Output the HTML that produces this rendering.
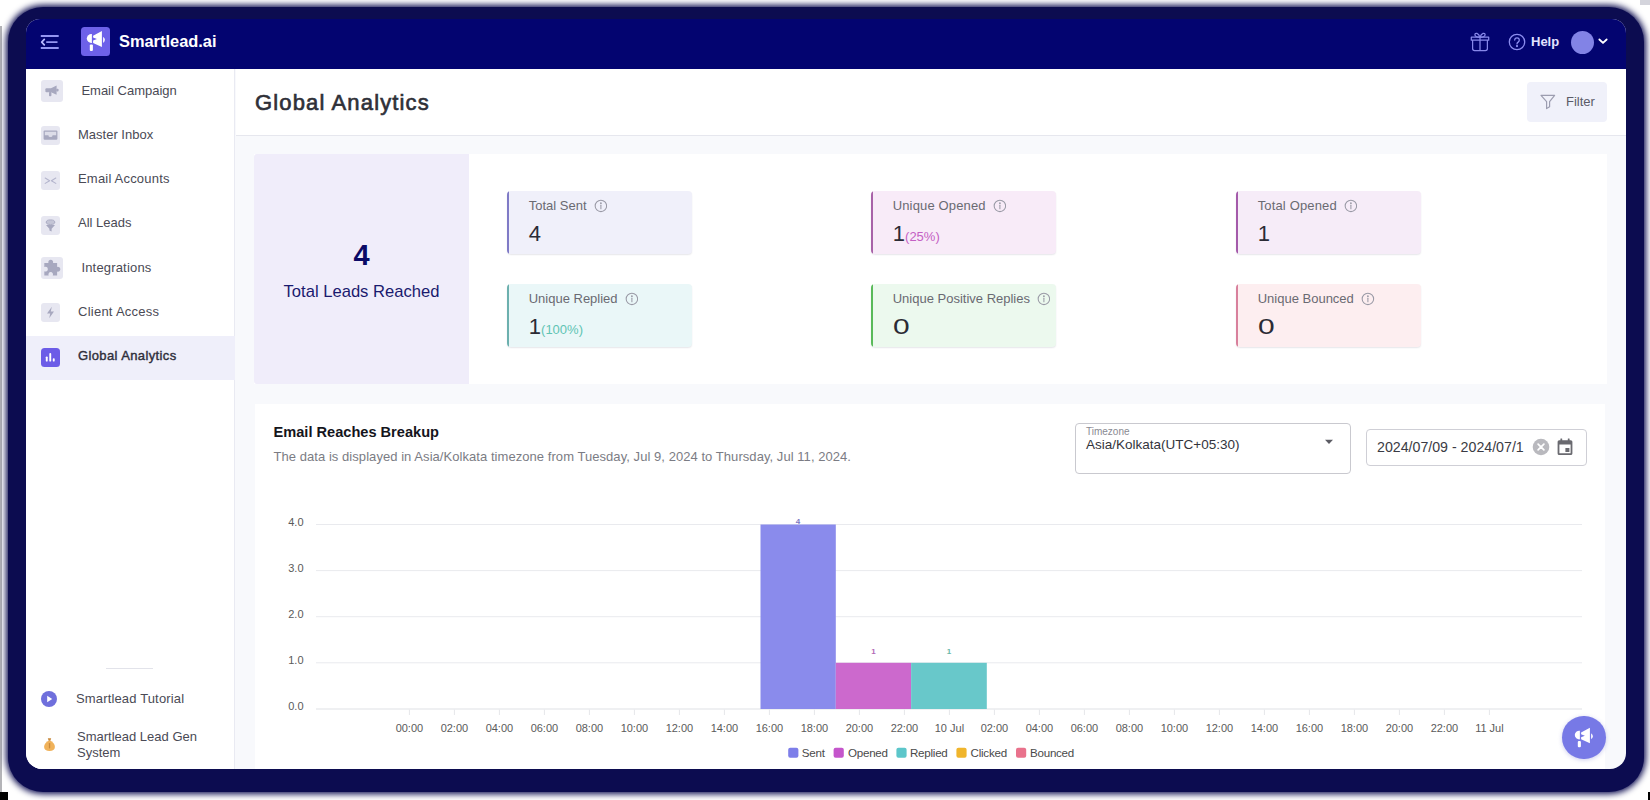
<!DOCTYPE html>
<html>
<head>
<meta charset="utf-8">
<title>Global Analytics</title>
<style>
*{box-sizing:border-box;margin:0;padding:0}
html,body{width:1650px;height:800px;overflow:hidden;background:#ffffff}
body{font-family:"Liberation Sans",sans-serif;position:relative;color:#333}
.frame{position:absolute;left:8px;top:7px;width:1636px;height:785px;background:#0c0c50;border-radius:35px;box-shadow:0 0 6px 2px #0c0c50}
.app{position:absolute;left:26px;top:19px;width:1600px;height:750px;background:#f8f9fc;border-radius:14px 14px 16px 16px;overflow:hidden}
.abs{position:absolute}
.t{position:absolute;white-space:nowrap;line-height:20px}
/* topbar */
.topbar{position:absolute;left:0;top:0;width:1600px;height:50px;background:#030470}
/* sidebar */
.sidebar{position:absolute;left:0;top:50px;width:209px;height:700px;background:#ffffff;border-right:1px solid #e9eaf2}
.nav{font-size:13px;color:#4a4a55}
.ib{position:absolute;background:#e7e7f1;border-radius:3px}
/* main */
.header{position:absolute;left:210px;top:50px;width:1390px;height:67px;background:#ffffff;border-bottom:1px solid #e6e7ee}
.panel{position:absolute;background:#ffffff}
.card{position:absolute;width:185.400px;height:63px;border-radius:4px;overflow:hidden;box-shadow:0 1px 1.500px rgba(60,60,90,.13)}
.card i{position:absolute;left:0;top:0;width:2.500px;height:100%;display:block}
.card .l{position:absolute;left:22.200px;top:4.700px;font-size:13px;line-height:20px;color:#6a6a72;white-space:nowrap}
.card .v{position:absolute;left:22.300px;top:29px;font-size:22px;line-height:28px;color:#2b2b35;white-space:nowrap}
.card .p{font-size:13px;margin-left:0}
.card svg{position:absolute;top:8.200px}
</style>
</head>
<body>
<div class="abs" style="left:0;top:26px;width:1.500px;height:766px;background:#b4b4b8"></div>
<div class="abs" style="left:0;top:792px;width:8px;height:8px;background:#000"></div>
<div class="abs" style="left:1648px;top:792px;width:2px;height:8px;background:#000"></div>
<div class="abs" style="left:1640px;top:0;width:10px;height:5px;background:#d4d4dc"></div>
<div class="frame"></div>
<div class="app">
  <div class="topbar">
    <!-- hamburger: app coords = target - (26,19) -->
    <svg class="abs" style="left:14px;top:15px" width="20" height="16" viewBox="0 0 20 16" fill="none" stroke="#9495f1" stroke-width="1.900">
      <path d="M.8 2H18.700M6.200 8.100H17.500M.8 14H18.700"/><path d="M4.300 5.300L1.700 8.100l2.600 2.800" stroke="#b9baff" stroke-width="1.700" stroke-linecap="round" stroke-linejoin="round"/>
    </svg>
    <div class="abs" style="left:55px;top:8px;width:29px;height:28.500px;border-radius:3.500px;background:#6d61e9"></div>
    <svg class="abs" style="left:55px;top:8px" width="29" height="29" viewBox="0 0 29 29" fill="#ffffff">
      <path d="M10.900 7.100A4.450 4.450 0 1 0 10.900 15.900z"/>
      <path d="M12.100 8.800L20.900 4V20L12.100 15.900V13.600L15.900 12.100 12.100 10.600z"/>
      <path d="M22.100 9.700Q25.700 12.800 22.100 15.900z"/>
      <rect x="8.800" y="17.600" width="3.100" height="6.400" rx="1"/>
    </svg>
    <div class="t" id="brand" style="left:93px;top:11.300px;font-size:16.400px;font-weight:bold;color:#ffffff;line-height:22px">Smartlead.ai</div>
    <!-- gift -->
    <svg class="abs" style="left:1444px;top:13px" width="20" height="20" viewBox="0 0 20 20" fill="none" stroke="#8788ea" stroke-width="1.250" stroke-linejoin="round" stroke-linecap="round">
      <path d="M1.300 5.200h17.400v3H1.300zM2.600 8.200v8.400a2 2 0 0 0 2 2h10.800a2 2 0 0 0 2-2V8.200M10 5.200V18.600"/>
      <path d="M10 5.200C8 5.200 4.700 4.800 4.900 2.500 5.100.5 8.500.7 10 5.200zM10 5.200C12 5.200 15.300 4.800 15.100 2.500 14.900.5 11.500.7 10 5.200z"/>
    </svg>
    <!-- help -->
    <svg class="abs" style="left:1481.400px;top:12.650px" width="20" height="20" viewBox="0 0 20 20" fill="none" stroke="#8b8cee" stroke-width="1.300" stroke-linecap="round">
      <circle cx="10" cy="10" r="7.700"/>
      <path d="M7.700 8.100a2.300 2.300 0 1 1 3.500 2c-.8.500-1.200.9-1.200 1.800"/>
      <circle cx="10" cy="14.100" r=".5" fill="#8b8cee"/>
    </svg>
    <div class="t" id="help" style="left:1505px;top:13px;font-size:13px;font-weight:bold;color:#e2e3ff;line-height:20px">Help</div>
    <div class="abs" style="left:1545px;top:12px;width:23px;height:23px;border-radius:50%;background:#8283e6"></div>
    <svg class="abs" style="left:1571.500px;top:18.500px" width="10" height="7.300" viewBox="0 0 11 8" fill="none" stroke="#ffffff" stroke-width="2" stroke-linecap="round" stroke-linejoin="round"><path d="M1.500 1.600L5.500 5.400 9.500 1.600"/></svg>
  </div>
  <div class="sidebar">
    <!-- coords inside sidebar: target - (26,69) -->
    <div class="abs" style="left:0;top:267px;width:209px;height:44px;background:#efeffa"></div>
    <!-- Email Campaign -->
    <div class="ib" style="left:15px;top:11px;width:22px;height:22px"></div>
    <svg class="abs" style="left:15px;top:11px" width="22" height="22" viewBox="0 0 22 22" fill="#a7a8bf">
      <path d="M15.600 5.600v9.200l-5.600-2.600H7.400v-4h2.600z"/><rect x="4.400" y="8.200" width="3.600" height="4" rx="1"/><rect x="8" y="12" width="2.400" height="4.200" rx=".8"/><rect x="15.200" y="8.800" width="2.400" height="2.800" rx="1"/>
    </svg>
    <div class="t nav" id="n1" style="left:55.400px;top:12px">Email Campaign</div>
    <!-- Master Inbox -->
    <div class="ib" style="left:15px;top:57px;width:19px;height:19px"></div>
    <svg class="abs" style="left:15px;top:57px" width="19" height="19" viewBox="0 0 19 19" fill="#a7a8bf">
      <path d="M2.600 5.600a1 1 0 0 1 1-1h11.800a1 1 0 0 1 1 1v7.200a1 1 0 0 1-1 1H3.600a1 1 0 0 1-1-1z"/><path d="M3.800 5.700h11.400v3.500h-3.600a2.100 1.900 0 0 1-4.200 0H3.800z" fill="#dcdce8"/>
    </svg>
    <div class="t nav" id="n2" style="left:52px;top:56px">Master Inbox</div>
    <!-- Email Accounts -->
    <div class="ib" style="left:15px;top:102px;width:19px;height:19px"></div>
    <svg class="abs" style="left:15px;top:102px" width="19" height="19" viewBox="0 0 19 19" fill="none" stroke="#b4b5cd" stroke-width="1.100" stroke-linecap="round" stroke-linejoin="round">
      <path d="M4.200 7L8.600 9.700 4.200 12.400M14.800 7L10.400 9.700 14.800 12.400"/>
    </svg>
    <div class="t nav" id="n3" style="letter-spacing:.2px;left:52px;top:100px">Email Accounts</div>
    <!-- All Leads -->
    <div class="ib" style="left:15px;top:147px;width:19px;height:19px"></div>
    <svg class="abs" style="left:15px;top:147px" width="19" height="19" viewBox="0 0 19 19" fill="#a7a8bf">
      <ellipse cx="9.500" cy="6.200" rx="4.300" ry="2.300" fill="#c4c5d6" stroke="#a7a8bf" stroke-width=".9"/><path d="M5 9h9l-3.400 3.800v2.800l-2.200-1.100v-1.700z"/>
    </svg>
    <div class="t nav" id="n4" style="left:52px;top:144px">All Leads</div>
    <!-- Integrations -->
    <div class="ib" style="left:15px;top:188px;width:22px;height:22px"></div>
    <svg class="abs" style="left:15px;top:188px" width="22" height="22" viewBox="0 0 22 22" fill="#a7a8bf">
      <path transform="translate(11 11) scale(1.28) translate(-11 -12.200)" d="M5 8.200h3.200a1.900 1.900 0 1 1 3.600 0H15v3.200a1.900 1.900 0 1 1 0 3.600v3H11.600a1.800 1.800 0 1 0-3.200 0H5v-3.200a1.900 1.900 0 1 0 0-3.400z"/>
    </svg>
    <div class="t nav" id="n5" style="letter-spacing:.18px;left:55.400px;top:189px">Integrations</div>
    <!-- Client Access -->
    <div class="ib" style="left:15px;top:234px;width:19px;height:19px"></div>
    <svg class="abs" style="left:15px;top:234px" width="19" height="19" viewBox="0 0 19 19" fill="#a7a8bf">
      <path d="M10.800 3.800L6 10.400h3.200L8.200 15.200 13 8.600H9.800z"/>
    </svg>
    <div class="t nav" id="n6" style="letter-spacing:.25px;left:52px;top:233px">Client Access</div>
    <!-- Global Analytics -->
    <div class="ib" style="left:15px;top:279px;width:18.500px;height:18.500px;background:#6c5ce7;border-radius:3.500px"></div>
    <svg class="abs" style="left:15px;top:279px" width="18.500" height="18.500" viewBox="0 0 18.500 18.500" fill="#ffffff">
      <rect x="4.800" y="8.400" width="1.900" height="5.200" rx=".9"/><rect x="8.300" y="5" width="1.900" height="8.600" rx=".9"/><rect x="11.800" y="10.200" width="1.900" height="3.400" rx=".9"/>
    </svg>
    <div class="t nav" id="n7" style="left:52px;top:277px;color:#2e2e3a;font-size:13px;-webkit-text-stroke:.4px #2e2e3a;letter-spacing:.38px">Global Analytics</div>
    <!-- divider -->
    <div class="abs" style="left:80px;top:599px;width:47px;height:1px;background:#e2e3ea"></div>
    <!-- tutorial -->
    <div class="abs" style="left:15px;top:622px;width:16px;height:16px;border-radius:50%;background:#6f6fdc"></div>
    <svg class="abs" style="left:15px;top:622px" width="16" height="16" viewBox="0 0 16 16" fill="#ffffff"><path d="M6.200 4.800L11.200 8 6.200 11.200z"/></svg>
    <div class="t nav" id="n8" style="letter-spacing:.15px;left:50px;top:620px">Smartlead Tutorial</div>
    <!-- lead gen -->
    <svg class="abs" style="left:17px;top:668px" width="13" height="15" viewBox="0 0 13 15">
      <path d="M6.500 3.600c3.600 1 5.400 4 5.400 6.400 0 2.600-2.200 4-5.400 4S1.100 12.600 1.100 10c0-2.400 1.800-5.400 5.400-6.400z" fill="#f0b25a"/>
      <path d="M4.800 1.200h3.400L7.400 3.800H5.600z" fill="#c98a3c"/>
      <rect x="5.900" y="6" width="1.300" height="5.400" rx=".6" fill="#c98a3c"/>
    </svg>
    <div class="t nav" id="n9" style="left:51px;top:659.600px;line-height:16px;white-space:normal;width:130px">Smartlead Lead Gen System</div>
  </div>
  <div class="header">
    <div class="t" id="title" style="letter-spacing:1.150px;left:19px;top:18px;font-size:22px;color:#2f3038;-webkit-text-stroke:.65px #2f3038;line-height:32px">Global Analytics</div>
    <div class="abs" style="left:1291px;top:13px;width:80px;height:40px;border-radius:4px;background:#f0f1fa"></div>
    <svg class="abs" style="left:1303px;top:24px" width="18" height="18" viewBox="0 0 18 18" fill="none" stroke="#9c9db0" stroke-width="1.200" stroke-linejoin="round"><path d="M2 2.400h13.600L10.600 8.600v5.200l-3 1.800V8.600z"/></svg>
    <div class="t" id="filter" style="left:1330px;top:23px;font-size:13px;color:#5a5b68;line-height:20px">Filter</div>
  </div>
  <div class="panel" style="left:228px;top:135px;width:1353px;height:230px"></div>
  <div class="abs" style="left:228px;top:135px;width:214.500px;height:230px;background:#f0edfa;border-radius:3px 0 0 3px"></div>
  <div class="t" id="big4" style="left:228px;top:216px;width:215px;text-align:center;font-size:29px;font-weight:bold;color:#0b0a66;line-height:40px">4</div>
  <div class="t" id="tlr" style="left:228px;top:262px;width:215px;text-align:center;font-size:16.600px;color:#1a1a6e;line-height:22px">Total Leads Reached</div>
  <div class="card" style="left:480.500px;top:172.300px;background:#f0f0fa"><i style="background:#7f7ac6"></i><div class="l" id="c1l">Total Sent</div><svg style="left:87.1px" width="13.800" height="13.800" viewBox="0 0 13 13" fill="none" stroke="#9a9aa6" stroke-width="1"><circle cx="6.500" cy="6.500" r="5.400"/><path d="M6.500 5.800v3.400" stroke-linecap="round"/><circle cx="6.500" cy="3.900" r=".35" fill="#9a9aa6"/></svg><div class="v" id="c1v">4</div></div>
    <div class="card" style="left:844.500px;top:172.300px;background:#f8ebf8"><i style="background:#a862a8"></i><div class="l" id="c2l" style="letter-spacing:.15px">Unique Opened</div><svg style="left:122.2px" width="13.800" height="13.800" viewBox="0 0 13 13" fill="none" stroke="#9a9aa6" stroke-width="1"><circle cx="6.500" cy="6.500" r="5.400"/><path d="M6.500 5.800v3.400" stroke-linecap="round"/><circle cx="6.500" cy="3.900" r=".35" fill="#9a9aa6"/></svg><div class="v" id="c2v">1<span class="p" style="color:#c45fc4">(25%)</span></div></div>
    <div class="card" style="left:1209.500px;top:172.300px;background:#f6ecf8"><i style="background:#a45aaa"></i><div class="l" id="c3l" style="letter-spacing:.15px">Total Opened</div><svg style="left:108px" width="13.800" height="13.800" viewBox="0 0 13 13" fill="none" stroke="#9a9aa6" stroke-width="1"><circle cx="6.500" cy="6.500" r="5.400"/><path d="M6.500 5.800v3.400" stroke-linecap="round"/><circle cx="6.500" cy="3.900" r=".35" fill="#9a9aa6"/></svg><div class="v" id="c3v">1</div></div>
    <div class="card" style="left:480.500px;top:265.300px;background:#eaf7f8"><i style="background:#6cb0ae"></i><div class="l" id="c4l">Unique Replied</div><svg style="left:118px" width="13.800" height="13.800" viewBox="0 0 13 13" fill="none" stroke="#9a9aa6" stroke-width="1"><circle cx="6.500" cy="6.500" r="5.400"/><path d="M6.500 5.800v3.400" stroke-linecap="round"/><circle cx="6.500" cy="3.900" r=".35" fill="#9a9aa6"/></svg><div class="v" id="c4v">1<span class="p" style="color:#5fc4b4">(100%)</span></div></div>
    <div class="card" style="left:844.500px;top:265.300px;background:#ecf9ee"><i style="background:#5aba5a"></i><div class="l" id="c5l">Unique Positive Replies</div><svg style="left:166px" width="13.800" height="13.800" viewBox="0 0 13 13" fill="none" stroke="#9a9aa6" stroke-width="1"><circle cx="6.500" cy="6.500" r="5.400"/><path d="M6.500 5.800v3.400" stroke-linecap="round"/><circle cx="6.500" cy="3.900" r=".35" fill="#9a9aa6"/></svg><div class="v" id="c5v"><span style="display:inline-block;transform:scaleX(1.360);transform-origin:0 50%">0</span></div></div>
    <div class="card" style="left:1209.500px;top:265.300px;background:#fdeef0"><i style="background:#d8809c"></i><div class="l" id="c6l">Unique Bounced</div><svg style="left:125.5px" width="13.800" height="13.800" viewBox="0 0 13 13" fill="none" stroke="#9a9aa6" stroke-width="1"><circle cx="6.500" cy="6.500" r="5.400"/><path d="M6.500 5.800v3.400" stroke-linecap="round"/><circle cx="6.500" cy="3.900" r=".35" fill="#9a9aa6"/></svg><div class="v" id="c6v"><span style="display:inline-block;transform:scaleX(1.360);transform-origin:0 50%">0</span></div></div>
    
  <div class="panel" id="chartpanel" style="left:229px;top:385px;width:1350px;height:380px"></div>
  <div class="t" id="ct" style="left:247.500px;top:403px;font-size:14.600px;font-weight:bold;color:#15151c;line-height:20px">Email Reaches Breakup</div>
  <div class="t" id="cs" style="letter-spacing:.055px;left:247.500px;top:428px;font-size:13px;color:#7b7c84;line-height:20px">The data is displayed in Asia/Kolkata timezone from Tuesday, Jul 9, 2024 to Thursday, Jul 11, 2024.</div>
  <div class="abs" style="left:1048.700px;top:404px;width:276.300px;height:50.500px;border:1px solid #c9c9cf;border-radius:4px;background:#fff"></div>
  <div class="t" id="tzl" style="left:1060px;top:408px;font-size:10px;color:#8a8a92;line-height:10px">Timezone</div>
  <div class="t" id="tzv" style="left:1060px;top:416px;font-size:13.500px;color:#33343c;line-height:20px">Asia/Kolkata(UTC+05:30)</div>
  <svg class="abs" style="left:1298px;top:420px" width="10" height="6" viewBox="0 0 10 6"><path d="M1 .8h8L5 5z" fill="#5c5c64"/></svg>
  <div class="abs" style="left:1340px;top:410px;width:220.700px;height:37px;border:1px solid #cfcfd6;border-radius:4px;background:#fff"></div>
  <div class="t" id="dv" style="left:1351px;top:418px;font-size:14.200px;color:#3a3b44;line-height:20px">2024/07/09 - 2024/07/1</div>
  <svg class="abs" style="left:1506px;top:419px" width="18" height="18" viewBox="0 0 18 18"><circle cx="9" cy="9" r="8.300" fill="#b9b9be"/><path d="M6.100 6.100l5.800 5.800M11.900 6.100l-5.800 5.800" stroke="#fff" stroke-width="1.700" stroke-linecap="round"/></svg>
  <svg class="abs" style="left:1530px;top:418px" width="18" height="20" viewBox="0 0 18 20" fill="#6a6a70"><path d="M3.200 3.200h11.600a1.600 1.600 0 0 1 1.600 1.600v11.600a1.600 1.600 0 0 1-1.600 1.600H3.200a1.600 1.600 0 0 1-1.600-1.600V4.800a1.600 1.600 0 0 1 1.600-1.600zM3.400 7.600v8.600h11.200V7.600z" fill-rule="evenodd"/><rect x="4.400" y="1.400" width="1.800" height="3" rx=".4"/><rect x="11.800" y="1.400" width="1.800" height="3" rx=".4"/><rect x="9.400" y="11" width="4" height="4"/></svg>
  <svg class="abs" style="left:0;top:0" width="1600" height="750" viewBox="26 19 1600 750" font-family="Liberation Sans, sans-serif">
    <path d="M316 524.5 H1582" stroke="#e9eaee" stroke-width="1"/>
    <path d="M316 570.6 H1582" stroke="#e9eaee" stroke-width="1"/>
    <path d="M316 616.7 H1582" stroke="#e9eaee" stroke-width="1"/>
    <path d="M316 662.8 H1582" stroke="#e9eaee" stroke-width="1"/>
    <path d="M316 709 H1582" stroke="#e0e1e5" stroke-width="1.200"/>
    <path d="M409.4 709.500 V715" stroke="#e6e7ea" stroke-width="1"/>
    <path d="M454.4 709.500 V715" stroke="#e6e7ea" stroke-width="1"/>
    <path d="M499.4 709.500 V715" stroke="#e6e7ea" stroke-width="1"/>
    <path d="M544.4 709.500 V715" stroke="#e6e7ea" stroke-width="1"/>
    <path d="M589.4 709.500 V715" stroke="#e6e7ea" stroke-width="1"/>
    <path d="M634.4 709.500 V715" stroke="#e6e7ea" stroke-width="1"/>
    <path d="M679.4 709.500 V715" stroke="#e6e7ea" stroke-width="1"/>
    <path d="M724.4 709.500 V715" stroke="#e6e7ea" stroke-width="1"/>
    <path d="M769.4 709.500 V715" stroke="#e6e7ea" stroke-width="1"/>
    <path d="M814.4 709.500 V715" stroke="#e6e7ea" stroke-width="1"/>
    <path d="M859.4 709.500 V715" stroke="#e6e7ea" stroke-width="1"/>
    <path d="M904.4 709.500 V715" stroke="#e6e7ea" stroke-width="1"/>
    <path d="M949.4 709.500 V715" stroke="#e6e7ea" stroke-width="1"/>
    <path d="M994.4 709.500 V715" stroke="#e6e7ea" stroke-width="1"/>
    <path d="M1039.4 709.500 V715" stroke="#e6e7ea" stroke-width="1"/>
    <path d="M1084.4 709.500 V715" stroke="#e6e7ea" stroke-width="1"/>
    <path d="M1129.4 709.500 V715" stroke="#e6e7ea" stroke-width="1"/>
    <path d="M1174.4 709.500 V715" stroke="#e6e7ea" stroke-width="1"/>
    <path d="M1219.4 709.500 V715" stroke="#e6e7ea" stroke-width="1"/>
    <path d="M1264.4 709.500 V715" stroke="#e6e7ea" stroke-width="1"/>
    <path d="M1309.4 709.500 V715" stroke="#e6e7ea" stroke-width="1"/>
    <path d="M1354.4 709.500 V715" stroke="#e6e7ea" stroke-width="1"/>
    <path d="M1399.4 709.500 V715" stroke="#e6e7ea" stroke-width="1"/>
    <path d="M1444.4 709.500 V715" stroke="#e6e7ea" stroke-width="1"/>
    <path d="M1489.4 709.500 V715" stroke="#e6e7ea" stroke-width="1"/>
    <rect x="760.500" y="524.500" width="75.300" height="184.500" fill="#8a8bec"/>
    <rect x="835.800" y="662.800" width="75.300" height="46.200" fill="#cc69cd"/>
    <rect x="911.100" y="662.800" width="75.700" height="46.200" fill="#68c8ca"/>
    <text x="798" y="524" font-size="8" font-weight="bold" fill="#7c78c2" text-anchor="middle">4</text>
    <text x="873.500" y="654" font-size="8" font-weight="bold" fill="#b36ab6" text-anchor="middle">1</text>
    <text x="949" y="654" font-size="8" font-weight="bold" fill="#68b8a8" text-anchor="middle">1</text>
    <text x="303.500" y="525.9" font-size="11" fill="#5a5a5a" text-anchor="end">4.0</text>
    <text x="303.500" y="572" font-size="11" fill="#5a5a5a" text-anchor="end">3.0</text>
    <text x="303.500" y="618.1" font-size="11" fill="#5a5a5a" text-anchor="end">2.0</text>
    <text x="303.500" y="664.2" font-size="11" fill="#5a5a5a" text-anchor="end">1.0</text>
    <text x="303.500" y="710.4" font-size="11" fill="#5a5a5a" text-anchor="end">0.0</text>
    <text x="409.4" y="732.300" font-size="11" fill="#5a5a5a" text-anchor="middle">00:00</text>
    <text x="454.4" y="732.300" font-size="11" fill="#5a5a5a" text-anchor="middle">02:00</text>
    <text x="499.4" y="732.300" font-size="11" fill="#5a5a5a" text-anchor="middle">04:00</text>
    <text x="544.4" y="732.300" font-size="11" fill="#5a5a5a" text-anchor="middle">06:00</text>
    <text x="589.4" y="732.300" font-size="11" fill="#5a5a5a" text-anchor="middle">08:00</text>
    <text x="634.4" y="732.300" font-size="11" fill="#5a5a5a" text-anchor="middle">10:00</text>
    <text x="679.4" y="732.300" font-size="11" fill="#5a5a5a" text-anchor="middle">12:00</text>
    <text x="724.4" y="732.300" font-size="11" fill="#5a5a5a" text-anchor="middle">14:00</text>
    <text x="769.4" y="732.300" font-size="11" fill="#5a5a5a" text-anchor="middle">16:00</text>
    <text x="814.4" y="732.300" font-size="11" fill="#5a5a5a" text-anchor="middle">18:00</text>
    <text x="859.4" y="732.300" font-size="11" fill="#5a5a5a" text-anchor="middle">20:00</text>
    <text x="904.4" y="732.300" font-size="11" fill="#5a5a5a" text-anchor="middle">22:00</text>
    <text x="949.4" y="732.300" font-size="11" fill="#5a5a5a" text-anchor="middle">10 Jul</text>
    <text x="994.4" y="732.300" font-size="11" fill="#5a5a5a" text-anchor="middle">02:00</text>
    <text x="1039.4" y="732.300" font-size="11" fill="#5a5a5a" text-anchor="middle">04:00</text>
    <text x="1084.4" y="732.300" font-size="11" fill="#5a5a5a" text-anchor="middle">06:00</text>
    <text x="1129.4" y="732.300" font-size="11" fill="#5a5a5a" text-anchor="middle">08:00</text>
    <text x="1174.4" y="732.300" font-size="11" fill="#5a5a5a" text-anchor="middle">10:00</text>
    <text x="1219.4" y="732.300" font-size="11" fill="#5a5a5a" text-anchor="middle">12:00</text>
    <text x="1264.4" y="732.300" font-size="11" fill="#5a5a5a" text-anchor="middle">14:00</text>
    <text x="1309.4" y="732.300" font-size="11" fill="#5a5a5a" text-anchor="middle">16:00</text>
    <text x="1354.4" y="732.300" font-size="11" fill="#5a5a5a" text-anchor="middle">18:00</text>
    <text x="1399.4" y="732.300" font-size="11" fill="#5a5a5a" text-anchor="middle">20:00</text>
    <text x="1444.4" y="732.300" font-size="11" fill="#5a5a5a" text-anchor="middle">22:00</text>
    <text x="1489.4" y="732.300" font-size="11" fill="#5a5a5a" text-anchor="middle">11 Jul</text>
    <rect x="788.2" y="747.800" width="10.200" height="10" rx="2" fill="#7d7ee9"/>
    <text x="801.8" y="756.800" font-size="11.600" fill="#4a4a4a" letter-spacing="-0.25">Sent</text>
    <rect x="833.6" y="747.800" width="10.200" height="10" rx="2" fill="#c455cb"/>
    <text x="848" y="756.800" font-size="11.600" fill="#4a4a4a" letter-spacing="-0.25">Opened</text>
    <rect x="896.4" y="747.800" width="10.200" height="10" rx="2" fill="#5cc6ca"/>
    <text x="910" y="756.800" font-size="11.600" fill="#4a4a4a" letter-spacing="-0.25">Replied</text>
    <rect x="956.4" y="747.800" width="10.200" height="10" rx="2" fill="#f0b52c"/>
    <text x="970.6" y="756.800" font-size="11.600" fill="#4a4a4a" letter-spacing="-0.25">Clicked</text>
    <rect x="1016" y="747.800" width="10.200" height="10" rx="2" fill="#e9728c"/>
    <text x="1030" y="756.800" font-size="11.600" fill="#4a4a4a" letter-spacing="-0.25">Bounced</text>
    </svg>
  <div class="abs" style="left:1536.200px;top:696.900px;width:43.500px;height:43.500px;border-radius:50%;background:#7779e6;box-shadow:0 1px 4px rgba(90,90,200,.3)"></div>
  <svg class="abs" style="left:1543.300px;top:705px" width="29" height="28" viewBox="0 0 29 29" preserveAspectRatio="none" fill="#ffffff">
      <path d="M10.900 7.100A4.450 4.450 0 1 0 10.900 15.900z"/>
      <path d="M12.100 8.800L20.900 4V20L12.100 15.900V13.600L15.900 12.100 12.100 10.600z"/>
      <path d="M22.100 9.700Q25.700 12.800 22.100 15.900z"/>
      <rect x="8.800" y="17.600" width="3.100" height="6.400" rx="1"/>
  </svg>
</div>
</body>
</html>
